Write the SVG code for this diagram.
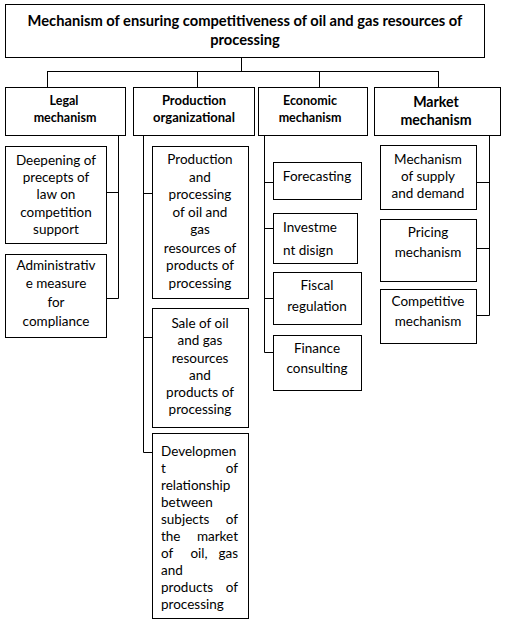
<svg xmlns="http://www.w3.org/2000/svg" width="506" height="624" viewBox="0 0 506 624">
<style>
.box{fill:#fff;stroke:#000;stroke-width:1}
.ln{fill:none;stroke:#000;stroke-width:1}
text{font-family:Lato,"Liberation Sans",sans-serif;fill:#000;font-size:13.5px}
.c{text-anchor:middle}
.e{text-anchor:end}
.b{font-weight:bold;font-size:12.5px}
.p{font-weight:bold;font-size:13px}
.t{font-weight:bold;font-size:14.7px}
.m{font-weight:bold;font-size:14.2px}
</style>
<rect width="506" height="624" fill="#fff"/>
<g id="connectors">
<path class="ln" d="M241.5 57V71.5M47.5 71.5H438.5M47.5 71V87M197.5 71V87M319.5 71V87M438.5 71V87"/>
<path class="ln" d="M118.5 135V298.5M107 192.5H118.5M107 298.5H118.5"/>
<path class="ln" d="M143.5 135V452.5M143.5 193.5H152M143.5 337.5H152M143.5 452.5H152"/>
<path class="ln" d="M264.5 135V352.5M264.5 182.5H273M264.5 228.5H273M264.5 298.5H273M264.5 352.5H273"/>
<path class="ln" d="M489.5 135V315.5M476 182.5H489.5M476 248.5H489.5M476 315.5H489.5"/>
</g>
<g id="title">
<rect class="box" x="5.5" y="4.5" width="479" height="53"/>
<text class="t c" x="245" y="26">Mechanism of ensuring competitiveness of oil and gas resources of</text>
<text class="t c" x="245" y="45">processing</text>
</g>
<g id="legal">
<rect class="box" x="5.5" y="87.5" width="120" height="48"/>
<text class="b c" x="64" y="105">Legal</text>
<text class="b c" x="65" y="122">mechanism</text>
</g>
<g id="production">
<rect class="box" x="133.5" y="87.5" width="121" height="48"/>
<text class="p c" x="194" y="105">Production</text>
<text class="p c" x="194" y="122">organizational</text>
</g>
<g id="economic">
<rect class="box" x="258.5" y="87.5" width="109" height="48"/>
<text class="b c" x="310" y="105">Economic</text>
<text class="b c" x="310" y="122">mechanism</text>
</g>
<g id="market">
<rect class="box" x="374.5" y="87.5" width="126" height="48"/>
<text class="m c" x="436" y="107">Market</text>
<text class="m c" x="436" y="125">mechanism</text>
</g>
<g id="legal-1">
<rect class="box" x="5.5" y="146.5" width="101" height="97"/>
<text class="c" x="56" y="165">Deepening of</text>
<text class="c" x="56" y="182">precepts of</text>
<text class="c" x="56" y="199">law on</text>
<text class="c" x="56" y="217">competition</text>
<text class="c" x="56" y="234">support</text>
</g>
<g id="legal-2">
<rect class="box" x="5.5" y="254.5" width="101" height="83"/>
<text class="c" x="56" y="270">Administrativ</text>
<text class="c" x="56" y="288">e measure</text>
<text class="c" x="56" y="307">for</text>
<text class="c" x="56" y="326">compliance</text>
</g>
<g id="prod-1">
<rect class="box" x="152.5" y="146.5" width="96" height="152"/>
<text class="c" x="200" y="164">Production</text>
<text class="c" x="200" y="182">and</text>
<text class="c" x="200" y="199">processing</text>
<text class="c" x="200" y="217">of oil and</text>
<text class="c" x="200" y="234">gas</text>
<text class="c" x="200" y="253">resources of</text>
<text class="c" x="200" y="270">products of</text>
<text class="c" x="200" y="288">processing</text>
</g>
<g id="prod-2">
<rect class="box" x="152.5" y="308.5" width="96" height="119"/>
<text class="c" x="200" y="328">Sale of oil</text>
<text class="c" x="200" y="345">and gas</text>
<text class="c" x="200" y="363">resources</text>
<text class="c" x="200" y="380">and</text>
<text class="c" x="200" y="397">products of</text>
<text class="c" x="200" y="414">processing</text>
</g>
<g id="prod-3">
<rect class="box" x="152.5" y="433.5" width="96" height="185"/>
<text x="161" y="456">Developmen</text>
<text x="161" y="473">t</text><text class="e" x="238" y="473">of</text>
<text x="161" y="490">relationship</text>
<text x="161" y="507">between</text>
<text x="161" y="524">subjects</text><text class="e" x="238" y="524">of</text>
<text x="161" y="541">the</text><text class="e" x="238" y="541">market</text>
<text x="161" y="558">of</text><text class="c" x="199" y="558">oil,</text><text class="e" x="238" y="558">gas</text>
<text x="161" y="575">and</text>
<text x="161" y="592">products</text><text class="e" x="238" y="592">of</text>
<text x="161" y="609">processing</text>
</g>
<g id="econ-1">
<rect class="box" x="273.5" y="162.5" width="88" height="37"/>
<text class="c" x="317" y="181">Forecasting</text>
</g>
<g id="econ-2">
<rect class="box" x="273.5" y="213.5" width="84" height="50"/>
<text x="283" y="232">Investme</text>
<text x="283" y="255">nt disign</text>
</g>
<g id="econ-3">
<rect class="box" x="273.5" y="272.5" width="88" height="52"/>
<text class="c" x="317" y="290">Fiscal</text>
<text class="c" x="317" y="311">regulation</text>
</g>
<g id="econ-4">
<rect class="box" x="273.5" y="335.5" width="88" height="55"/>
<text class="c" x="317" y="353">Finance</text>
<text class="c" x="317" y="373">consulting</text>
</g>
<g id="market-1">
<rect class="box" x="380.5" y="145.5" width="96" height="64"/>
<text class="c" x="428" y="164">Mechanism</text>
<text class="c" x="428" y="181">of supply</text>
<text class="c" x="428" y="198">and demand</text>
</g>
<g id="market-2">
<rect class="box" x="380.5" y="219.5" width="96" height="62"/>
<text class="c" x="428" y="237">Pricing</text>
<text class="c" x="428" y="257">mechanism</text>
</g>
<g id="market-3">
<rect class="box" x="380.5" y="289.5" width="96" height="54"/>
<text class="c" x="428" y="306">Competitive</text>
<text class="c" x="428" y="326">mechanism</text>
</g>
</svg>
